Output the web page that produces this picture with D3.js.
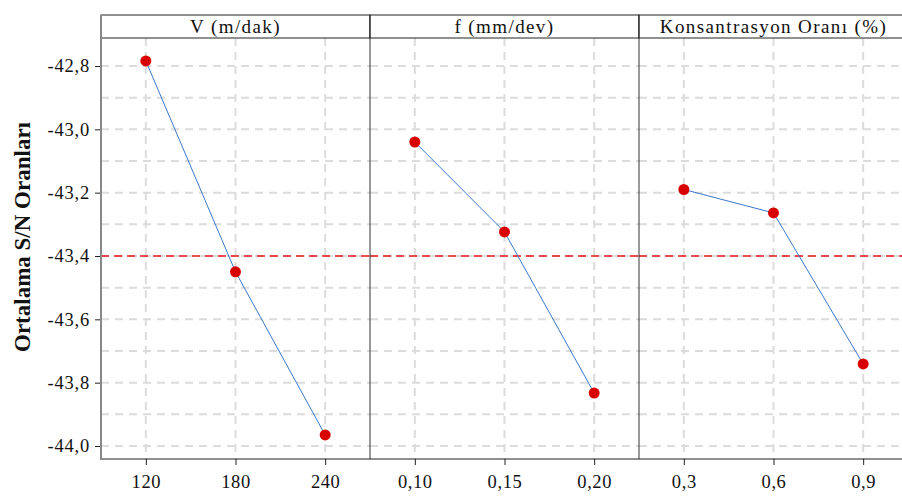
<!DOCTYPE html>
<html>
<head>
<meta charset="utf-8">
<script src="https://d3js.org/d3.v7.min.js"></script>
<style>
  body { margin: 0; background: #fff; }
  svg text { font-family: "Liberation Serif", "Times New Roman", serif !important; }
</style>
</head>
<body>
<script>
// factors and their levels
var factors = ["V (m/dak)", "f (mm/dev)", "Konsantrasyon Oranı (%)"];
var levelsV = ["120", "180", "240"];
var levelsF = ["0,10", "0,15", "0,20"];
var levelsK = ["0,3", "0,6", "0,9"];
// mean S/N per level
var snV = [-42.784, -43.450, -43.965];
var snF = [-43.040, -43.324, -43.833];
var snK = [-43.190, -43.264, -43.741];
var yTicks = [-42.8, -43.0, -43.2, -43.4, -43.6, -43.8, -44.0];
var yMinor = [-42.9, -43.1, -43.3, -43.5, -43.7, -43.9];
var grandMean = -43.4;

var levels = [levelsV, levelsF, levelsK];
var series = [snV, snF, snK];

var W = 902, H = 497;
var left = 101, top0 = 15, stripH = 23, bottom = 459, panelW = 269;

var svg = d3.select("body").append("svg").attr("width", W).attr("height", H);

var y = d3.scaleLinear().domain([-42.8, -44.0]).range([66, 446]);
var fmt = function(v){ return d3.format(".1f")(v).replace(".", ",").replace("−", "-"); };

factors.forEach(function(name, i) {
  var x0 = left + i * panelW;
  var x = d3.scalePoint().domain(levels[i]).range([x0, x0 + panelW]).padding(0.5);
  var g = svg.append("g");

  // horizontal grid
  yTicks.concat(yMinor).forEach(function(v) {
    g.append("line").attr("x1", x0).attr("x2", x0 + panelW)
      .attr("y1", y(v)).attr("y2", y(v))
      .attr("stroke", "#dcdcdc").attr("stroke-width", 2).attr("stroke-dasharray", "8,6");
  });
  // vertical grid
  levels[i].forEach(function(l) {
    g.append("line").attr("x1", x(l)).attr("x2", x(l))
      .attr("y1", top0 + stripH).attr("y2", bottom)
      .attr("stroke", "#dcdcdc").attr("stroke-width", 2).attr("stroke-dasharray", "8,6");
  });

  // reference line
  g.append("line").attr("x1", x0).attr("x2", x0 + panelW)
    .attr("y1", y(grandMean)).attr("y2", y(grandMean))
    .attr("stroke", "#e8141c").attr("stroke-width", 1.6).attr("stroke-dasharray", "8,5");

  // strip
  g.append("rect").attr("x", x0).attr("y", top0).attr("width", panelW).attr("height", stripH)
    .attr("fill", "#fff").attr("stroke", "#222").attr("stroke-width", 1);
  g.append("text").attr("x", x0 + panelW / 2).attr("y", top0 + 18)
    .attr("text-anchor", "middle").attr("font-size", 19).attr("letter-spacing", 1.4)
    .attr("fill", "#111").text(name);

  // line and points
  var pts = levels[i].map(function(l, j){ return [x(l), y(series[i][j])]; });
  g.append("path").attr("d", d3.line()(pts)).attr("fill", "none")
    .attr("stroke", "#3a78c9").attr("stroke-width", 1);
  g.selectAll("circle").data(pts).enter().append("circle")
    .attr("cx", function(d){ return d[0]; }).attr("cy", function(d){ return d[1]; })
    .attr("r", 5.5).attr("fill", "#d90000");

  // x axis
  var ax = svg.append("g").attr("transform", "translate(0," + bottom + ")")
    .call(d3.axisBottom(x).tickSize(6).tickPadding(10));
  ax.select(".domain").remove();
  ax.selectAll("line").attr("stroke", "#222");
  ax.selectAll("text").attr("font-size", 18.5).attr("letter-spacing", 0.6).attr("fill", "#111");

  // panel divider
  if (i > 0) {
    svg.append("line").attr("x1", x0).attr("x2", x0).attr("y1", top0).attr("y2", bottom)
      .attr("stroke", "#333").attr("stroke-width", 1);
  }
});

// bottom axis line
svg.append("line").attr("x1", left).attr("x2", W).attr("y1", bottom).attr("y2", bottom)
  .attr("stroke", "#222").attr("stroke-width", 1.2);

// y axis
var ay = svg.append("g").attr("transform", "translate(" + left + ",0)")
  .call(d3.axisLeft(y).tickValues(yTicks).tickFormat(fmt).tickSize(6).tickPadding(5));
ay.select(".domain").remove();
ay.selectAll("line").attr("stroke", "#222");
ay.selectAll("text").attr("font-size", 18.5).attr("letter-spacing", 0.8).attr("fill", "#111");
svg.append("line").attr("x1", left).attr("x2", left).attr("y1", top0).attr("y2", bottom + 1)
  .attr("stroke", "#888").attr("stroke-width", 2);

// y title
svg.append("text").attr("transform", "translate(30,237) rotate(-90)")
  .attr("text-anchor", "middle").attr("font-size", 23).attr("font-weight", "bold")
  .attr("fill", "#111").text("Ortalama S/N Oranları");
</script>
</body>
</html>
